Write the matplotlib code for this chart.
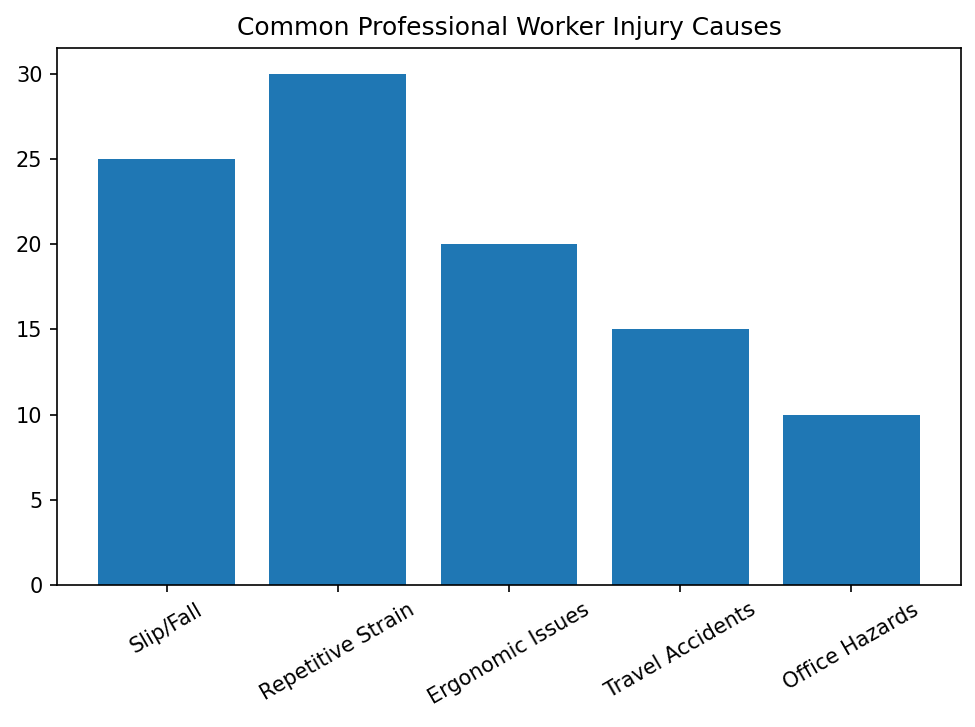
import matplotlib
matplotlib.use("Agg")
import matplotlib.pyplot as plt

# data
causes = ['Slip/Fall', 'Repetitive Strain', 'Ergonomic Issues', 'Travel Accidents', 'Office Hazards']
counts = [25, 30, 20, 15, 10]

fig, ax = plt.subplots(figsize=(6.5, 4.8467), dpi=150)
ax.bar(causes, counts, color='#1f77b4')
ax.set_title('Common Professional Worker Injury Causes')
plt.xticks(rotation=30)
fig.subplots_adjust(left=0.0585, right=0.9856, top=0.934, bottom=0.1953)
plt.savefig('out.png')
